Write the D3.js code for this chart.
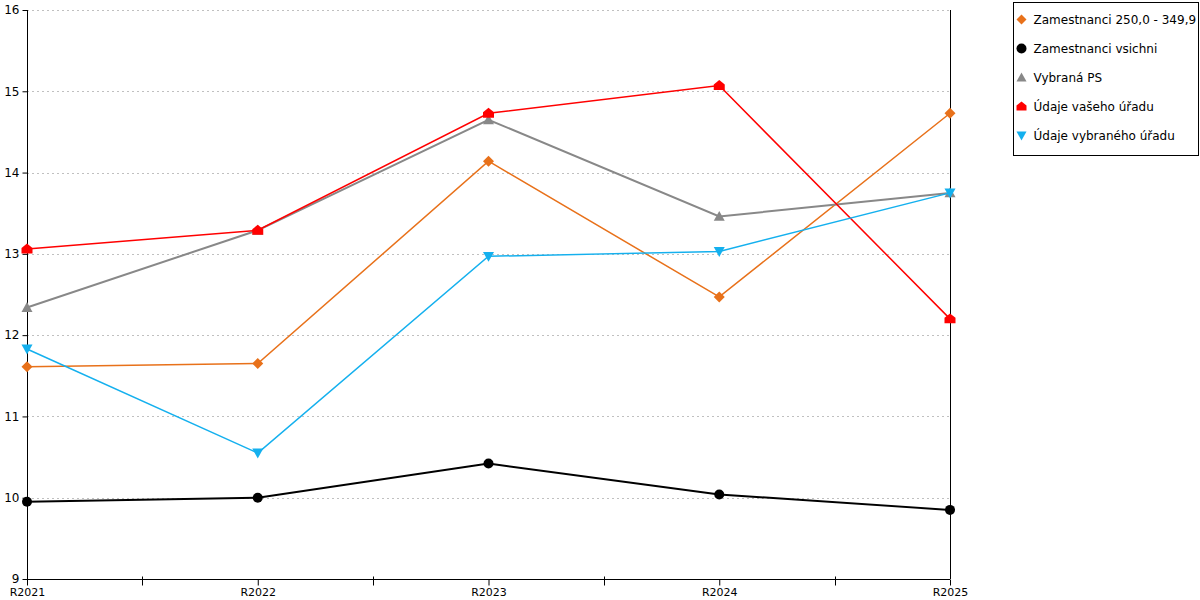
<!DOCTYPE html>
<html>
<head>
<meta charset="utf-8">
<script src="https://cdn.jsdelivr.net/npm/d3@7"></script>
<style>
  body { margin: 0; background: #fff; }
  text { font-family: "DejaVu Sans", sans-serif; }
</style>
</head>
<body>
<svg id="chart" width="1200" height="600"></svg>
<script>
// data
const years = ["R2021", "R2022", "R2023", "R2024", "R2025"];
const yTicks = [9, 10, 11, 12, 13, 14, 15, 16];

const zam250 = [11.61, 11.65, 14.14, 12.47, 14.73];
const zamVsichni = [9.95, 10.0, 10.42, 10.04, 9.85];
const vybranaPS = [12.34, 13.29, 14.65, 13.46, 13.75];
const vasehoUradu = [13.06, 13.29, 14.73, 15.07, 12.2];
const vybranehoUradu = [11.83, 10.55, 12.97, 13.03, 13.75];

const series = [
    { name: "Zamestnanci 250,0 - 349,9", values: zam250, color: "#e8711a", shape: "diamond", width: 1.5 },
    { name: "Zamestnanci vsichni", values: zamVsichni, color: "#000000", shape: "circle", width: 2 },
    { name: "Vybraná PS", values: vybranaPS, color: "#888888", shape: "triangle", width: 2 },
    { name: "Údaje vašeho úřadu", values: vasehoUradu, color: "#ff0000", shape: "house", width: 1.5 },
    { name: "Údaje vybraného úřadu", values: vybranehoUradu, color: "#14b0ee", shape: "triangleDown", width: 1.5 }
];

const margin = { top: 10, left: 27, right: 250, bottom: 21 };
const width = 1200, height = 600;

const svg = d3.select("#chart");

const x = d3.scalePoint()
    .domain(years)
    .range([margin.left, width - margin.right]);

const y = d3.scaleLinear()
    .domain([9, 16])
    .range([height - margin.bottom, margin.top]);

// grid
svg.append("g")
    .selectAll("line")
    .data(yTicks.slice(1))
    .join("line")
    .attr("x1", margin.left)
    .attr("x2", width - margin.right)
    .attr("y1", d => Math.round(y(d)) + 0.5)
    .attr("y2", d => Math.round(y(d)) + 0.5)
    .attr("stroke", "#c0c0c0")
    .attr("stroke-dasharray", "2,3");

// right border line
svg.append("line")
    .attr("x1", width - margin.right + 0.5)
    .attr("x2", width - margin.right + 0.5)
    .attr("y1", margin.top)
    .attr("y2", height - margin.bottom)
    .attr("stroke", "#000");

// y axis
const yAxis = svg.append("g")
    .attr("transform", `translate(${margin.left + 0.5},0)`)
    .call(d3.axisLeft(y).tickValues(yTicks).tickSize(5).tickPadding(3).tickFormat(d3.format("d")));
yAxis.selectAll("text").style("font-size", "12px").attr("fill", "#000");
yAxis.select(".domain").attr("d", `M0,${margin.top}V${height - margin.bottom}`);

// x axis
const xAxis = svg.append("g")
    .attr("transform", `translate(0,${height - margin.bottom + 0.5})`)
    .call(d3.axisBottom(x).tickSize(6).tickPadding(3));
xAxis.selectAll("text").style("font-size", "11px").attr("fill", "#000");
xAxis.select(".domain").attr("d", `M${margin.left},0H${width - margin.right}`);

// midpoint ticks
const mids = years.slice(1).map((d, i) => (x(years[i]) + x(d)) / 2);
xAxis.append("g")
    .selectAll("line")
    .data(mids)
    .join("line")
    .attr("x1", d => Math.round(d) + 0.5)
    .attr("x2", d => Math.round(d) + 0.5)
    .attr("y1", -3)
    .attr("y2", 6)
    .attr("stroke", "#000");

function markerPath(shape, s) {
    switch (shape) {
        case "diamond":
            return `M0,${-s}L${s},0L0,${s}L${-s},0Z`;
        case "circle":
            return d3.symbol(d3.symbolCircle, Math.PI * s * s)();
        case "triangle":
            return `M0,${-s}L${s},${s * 0.8}L${-s},${s * 0.8}Z`;
        case "triangleDown":
            return `M${-s},${-s * 0.8}L${s},${-s * 0.8}L0,${s}Z`;
        case "house":
            return `M0,${-s}L${s},${-s * 0.2}L${s},${s * 0.8}L${-s},${s * 0.8}L${-s},${-s * 0.2}Z`;
    }
}

const line = d3.line()
    .x((d, i) => x(years[i]))
    .y(d => y(d));

series.forEach(s => {
    const g = svg.append("g");
    g.append("path")
        .datum(s.values)
        .attr("d", line)
        .attr("fill", "none")
        .attr("stroke", s.color)
        .attr("stroke-width", s.width);
    g.selectAll("path.mark")
        .data(s.values)
        .join("path")
        .attr("class", "mark")
        .attr("transform", (d, i) => `translate(${x(years[i])},${y(d)})`)
        .attr("d", markerPath(s.shape, s.shape === "circle" ? 5 : 5.5))
        .attr("fill", s.color);
});

// legend
const legend = svg.append("g")
    .attr("transform", "translate(1013.5,2.5)");
legend.append("rect")
    .attr("width", 185)
    .attr("height", 153)
    .attr("fill", "#fff")
    .attr("stroke", "#000");

const items = legend.selectAll("g.item")
    .data(series)
    .join("g")
    .attr("class", "item")
    .attr("transform", (d, i) => `translate(8,${17 + i * 29})`);
items.append("path")
    .attr("d", d => markerPath(d.shape, 5))
    .attr("fill", d => d.color);
items.append("text")
    .attr("x", 12)
    .attr("dy", "0.35em")
    .style("font-size", "12px")
    .text(d => d.name);
</script>
</body>
</html>
